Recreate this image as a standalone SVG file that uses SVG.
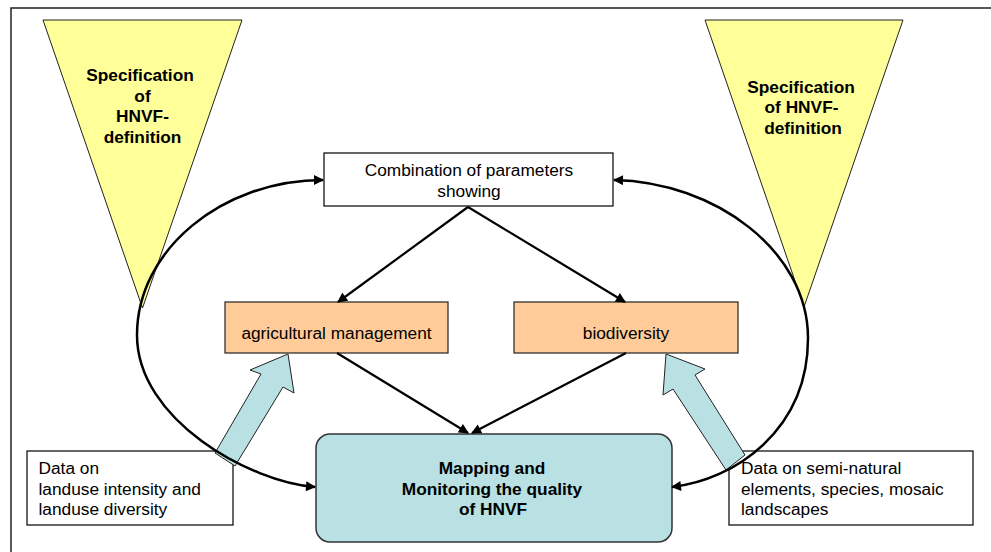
<svg xmlns="http://www.w3.org/2000/svg" width="991" height="552" viewBox="0 0 991 552">
  <style>
    .t{font-family:"Liberation Sans",Arial,sans-serif;font-size:17.3px;fill:#000}
    .b{font-weight:bold}
    .m{text-anchor:middle}
    .tri{fill:#ffff99;stroke:#222;stroke-width:1}
    .box{fill:#fff;stroke:#000;stroke-width:1.2}
    .org{fill:#ffcc99;stroke:#222;stroke-width:1.2}
    .map{fill:#b9e0e3;stroke:#333;stroke-width:1.5}
    .blk{fill:#b9e0e3;stroke:#222;stroke-width:1}
    .ln{fill:none;stroke:#000;stroke-width:2.2;marker-end:url(#ah)}
    .cv{fill:none;stroke:#000;stroke-width:2.5;marker-start:url(#ahs);marker-end:url(#ah)}
  </style>
  <defs>
    <marker id="ah" viewBox="0 0 10 10" refX="9" refY="5" markerWidth="11" markerHeight="10" orient="auto" markerUnits="userSpaceOnUse">
      <path d="M0,0 L10,5 L0,10 z" fill="#000"/>
    </marker>
    <marker id="ahs" viewBox="0 0 10 10" refX="9" refY="5" markerWidth="11" markerHeight="10" orient="auto-start-reverse" markerUnits="userSpaceOnUse">
      <path d="M0,0 L10,5 L0,10 z" fill="#000"/>
    </marker>
  </defs>
  <rect width="991" height="552" fill="#fff"/>
  <path d="M11,552 L11,8 L991,8" fill="none" stroke="#222" stroke-width="1.5"/>

  <g id="spec-left">
    <polygon class="tri" points="43,20 242,20 142.5,308"/>
    <text class="t b m" x="140" y="81">Specification</text>
    <text class="t b m" x="142.5" y="101.5">of</text>
    <text class="t b m" x="142.5" y="122">HNVF-</text>
    <text class="t b m" x="142.5" y="142.5">definition</text>
  </g>
  <g id="spec-right">
    <polygon class="tri" points="705,20 903,20 804,307"/>
    <text class="t b m" x="801" y="92.5">Specification</text>
    <text class="t b m" x="801.5" y="113">of HNVF-</text>
    <text class="t b m" x="803" y="133.5">definition</text>
  </g>
  <g id="combination">
    <rect class="box" x="324" y="153" width="289" height="53"/>
    <text class="t m" x="469" y="176">Combination of parameters</text>
    <text class="t m" x="469" y="196.5">showing</text>
  </g>
  <g id="agri">
    <rect class="org" x="225" y="302" width="223" height="51"/>
    <text class="t m" x="336.5" y="338.5">agricultural management</text>
  </g>
  <g id="bio">
    <rect class="org" x="514" y="302" width="224" height="51"/>
    <text class="t m" x="626" y="338.5">biodiversity</text>
  </g>
  <g id="mapping">
    <rect class="map" x="316" y="434" width="356" height="108" rx="14" ry="14"/>
    <text class="t b m" x="492" y="474">Mapping and</text>
    <text class="t b m" x="492" y="494.5">Monitoring the quality</text>
    <text class="t b m" x="493" y="515">of HNVF</text>
  </g>
  <g id="data-left">
    <rect class="box" x="27" y="451" width="206" height="74"/>
    <text class="t" x="38.5" y="474">Data on</text>
    <text class="t" x="38.5" y="494.5">landuse intensity and</text>
    <text class="t" x="38.5" y="515">landuse diversity</text>
  </g>
  <g id="data-right">
    <rect class="box" x="729" y="451" width="244" height="74"/>
    <text class="t" x="741" y="474">Data on semi-natural</text>
    <text class="t" x="741" y="494.5">elements, species, mosaic</text>
    <text class="t" x="741" y="515">landscapes</text>
  </g>

  <g id="connectors">
    <polygon class="blk" points="288,354 294,393 283,387 235,466 215,453 261,374 250,370"/>
    <polygon class="blk" points="666,354 705,369 695,375 745,455 726,470 673,389 663,395"/>
    <path class="ln" d="M468,207 L338,302"/>
    <path class="ln" d="M468,207 L625,302"/>
    <path class="ln" d="M337,353 L468,433"/>
    <path class="ln" d="M626,353 L472,433"/>
    <path class="cv" d="M323,180 C222,180 137,250 137,335 C137,420 250,482 315,487"/>
    <path class="cv" d="M614,180 C715,182 808,251 808,338 C808,430 735,480 672,487"/>
  </g>
</svg>
